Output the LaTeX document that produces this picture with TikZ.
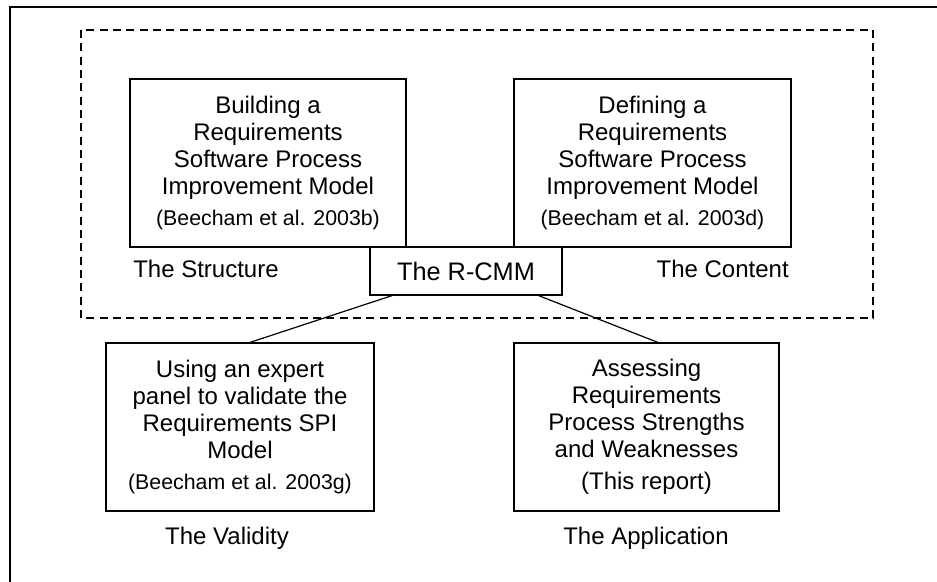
\documentclass[tikz,border=0pt]{standalone}
\usepackage{fontspec}
\setmainfont{Liberation Sans}
\newcommand\refnote[1]{{\fontsize{16pt}{19pt}\selectfont #1}}
\begin{document}
\begin{tikzpicture}[x=0.75pt, y=-0.75pt,
                    box/.style = {draw, line width=0.9pt, fill=white, align=center, inner sep=0pt,
                                  font=\fontsize{18pt}{20.25pt}\selectfont, minimum height=126pt},
                    caption/.style = {inner sep=0pt, font=\fontsize{18pt}{21pt}\selectfont},
                    link/.style = {line width=0.9pt}]
                    \useasboundingbox (0,0) rectangle (937,581);
                    \clip (0,0) rectangle (937,581);

                    \draw[line width=0.9pt] (10,7) rectangle (1000,650);
                    \draw[line width=0.8pt, dash pattern=on 6pt off 4pt] (81,30) rectangle (873,318);

                    \node[box, minimum width=207pt]     (building)   at (268,163)   {Building a\\Requirements\\Software Process\\Improvement Model\\[3pt]\refnote{(Beecham et al. 2003b)}};
                    \node[box, minimum width=207.75pt]  (defining)   at (652.5,163) {Defining a\\Requirements\\Software Process\\Improvement Model\\[3pt]\refnote{(Beecham et al. 2003d)}};
                    \node[box, minimum width=201pt]     (validating) at (240,427)   {Using an expert\\panel to validate the\\Requirements SPI\\Model\\[3pt]\refnote{(Beecham et al. 2003g)}};
                    \node[box, minimum width=198.75pt]  (assessing)  at (646.5,427) {Assessing\\Requirements\\Process Strengths\\and Weaknesses\\[4pt](This report)};
                    \node[box, minimum width=144pt, minimum height=36pt, font=\fontsize{19pt}{22pt}\selectfont] (rcmm) at (466,271) {The R-CMM};

                    \node[caption, anchor=base west] (structure)   at (133,277) {The Structure};
                    \node[caption, anchor=base east] (content)     at (789,277) {The Content};
                    \node[caption, anchor=base]      (validity)    at (227,544) {The Validity};
                    \node[caption, anchor=base]      (application) at (646,544) {The Application};

                    \draw[link] ([xshift=17pt]rcmm.south west) -- ([xshift=7.5pt]validating.north);
                    \draw[link] ([xshift=-18pt]rcmm.south east) -- ([xshift=8.5pt]assessing.north);

                \end{tikzpicture}
\end{document}
